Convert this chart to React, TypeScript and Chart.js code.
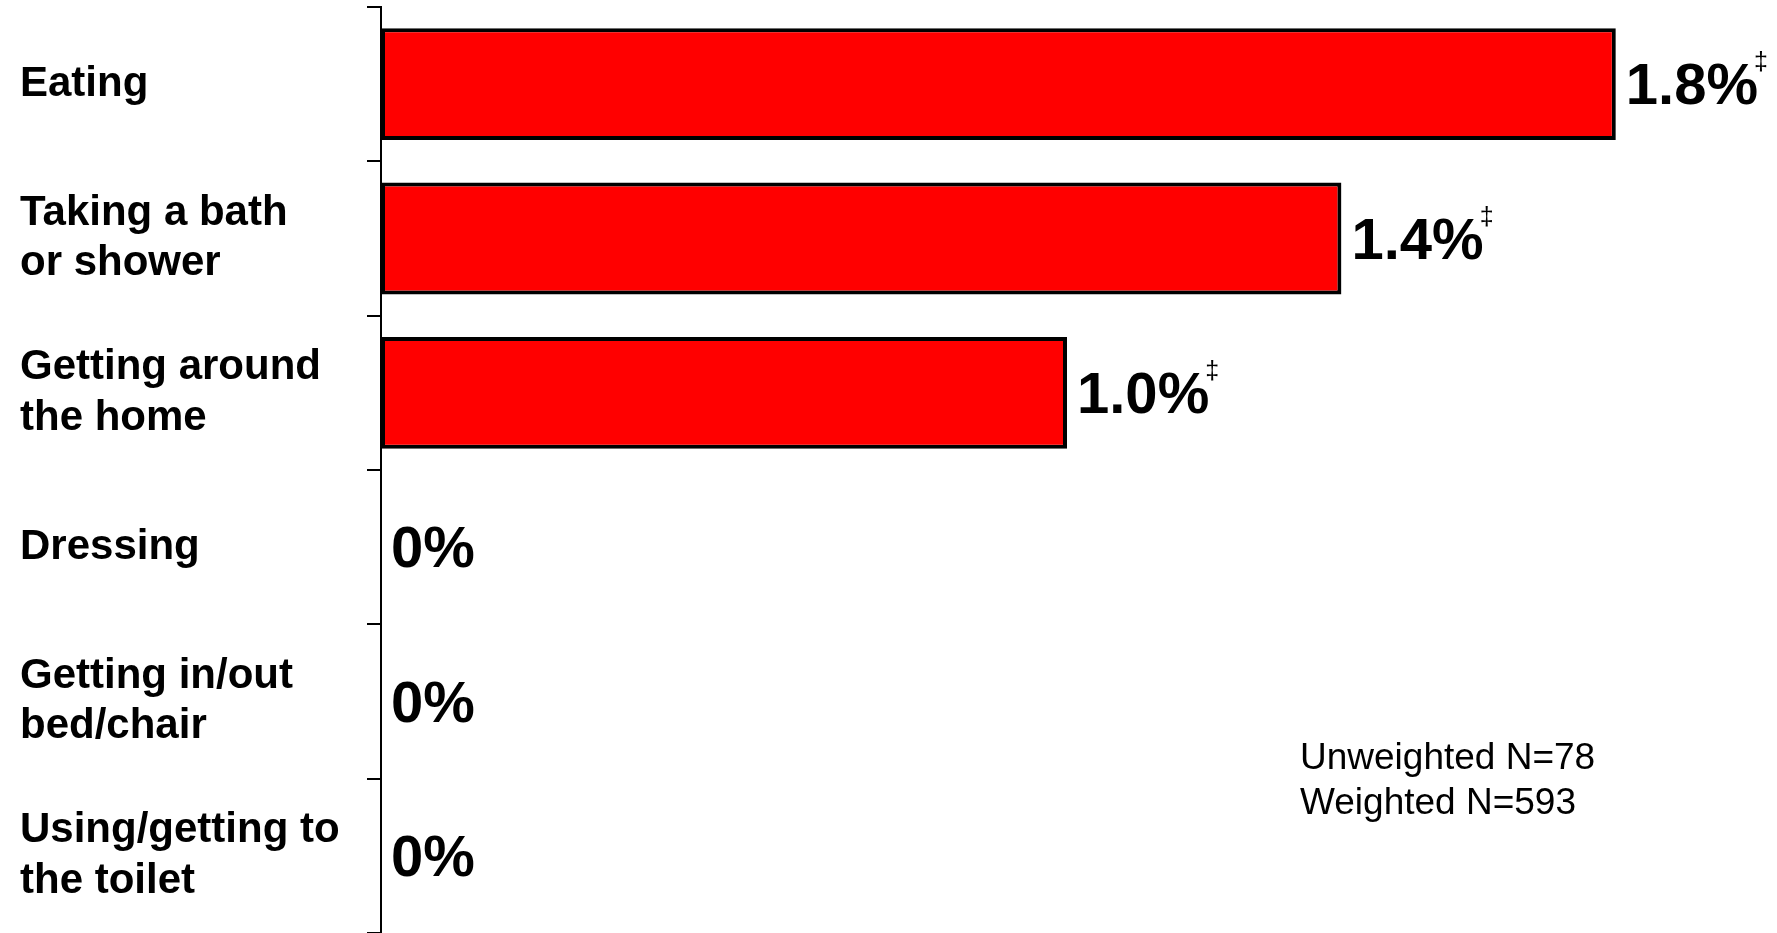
import React, { useEffect, useRef } from 'react';
import { Chart, registerables } from 'chart.js';

Chart.register(...registerables);

const FONT = '"Liberation Sans", Arial, Helvetica, sans-serif';

const categories: (string | string[])[] = [
  'Eating',
  ['Taking a bath', 'or shower'],
  ['Getting around', 'the home'],
  'Dressing',
  ['Getting in/out', 'bed/chair'],
  ['Using/getting to', 'the toilet'],
];
const values: number[] = [1.8, 1.4, 1.0, 0, 0, 0];
const valueLabels: string[] = ['1.8%', '1.4%', '1.0%', '0%', '0%', '0%'];
const footnoteMarks: string[] = ['‡', '‡', '‡', '', '', ''];
const sampleNotes: string[] = ['Unweighted N=78', 'Weighted N=593'];
const xMin = 0;
const xMax = 2;

const valueLabelPlugin = {
  id: 'valueLabelPlugin',
  afterDatasetsDraw(chart: any) {
    const ctx = chart.ctx as CanvasRenderingContext2D;
    const meta = chart.getDatasetMeta(0);
    ctx.save();
    ctx.fillStyle = '#000';
    meta.data.forEach((bar: any, i: number) => {
      const { x, y } = bar.getProps(['x', 'y'], true);
      const label = valueLabels[i];
      ctx.font = `bold 58px ${FONT}`;
      ctx.textAlign = 'left';
      ctx.textBaseline = 'alphabetic';
      const tx = x + 10;
      ctx.fillText(label, tx, y + 20);
      const w = ctx.measureText(label).width;
      if (footnoteMarks[i]) {
        ctx.font = `25px ${FONT}`;
        ctx.textAlign = 'center';
        ctx.fillText(footnoteMarks[i], tx + w + 3, y - 14);
      }
    });
    ctx.font = `37px ${FONT}`;
    ctx.textAlign = 'left';
    ctx.textBaseline = 'alphabetic';
    sampleNotes.forEach((t, i) => {
      ctx.fillText(t, 1300, 769 + i * 45);
    });
    ctx.restore();
  },
};

export default function App() {
  const ref = useRef<HTMLCanvasElement | null>(null);

  useEffect(() => {
    if (!ref.current) return;
    const chart = new Chart(ref.current, {
      type: 'bar',
      data: {
        labels: categories,
        datasets: [
          {
            data: values,
            backgroundColor: '#FF0000',
            borderColor: '#000000',
            borderWidth: 4,
            borderSkipped: false,
            barPercentage: 0.725,
            categoryPercentage: 1,
          },
        ],
      },
      options: {
        indexAxis: 'y',
        responsive: false,
        maintainAspectRatio: false,
        animation: false,
        layout: { padding: { left: 20, top: 7, right: 24, bottom: 0 } },
        plugins: {
          legend: { display: false },
          tooltip: { enabled: false },
          title: { display: false },
        },
        scales: {
          x: { display: false, min: xMin, max: xMax },
          y: {
            grid: {
              drawOnChartArea: false,
              drawTicks: true,
              tickLength: 14,
              color: '#000',
              lineWidth: 2,
              offset: true,
            },
            border: { display: true, color: '#000', width: 2 },
            ticks: {
              crossAlign: 'far',
              color: '#000',
              autoSkip: false,
              padding: 0,
              font: { family: FONT, size: 42, weight: 'bold', lineHeight: 1.2 },
            },
            afterFit: (scale: any) => {
              scale.width = 361;
              scale.paddingTop = 0;
              scale.paddingBottom = 0;
            },
          },
        },
      },
      plugins: [valueLabelPlugin],
    } as any);
    return () => chart.destroy();
  }, []);

  return (
    <div style={{ position: 'fixed', left: 0, top: 0, width: 1777, height: 933, background: '#fff' }}>
      <canvas ref={ref} width={1777} height={933} style={{ width: 1777, height: 933, display: 'block' }} />
    </div>
  );
}
